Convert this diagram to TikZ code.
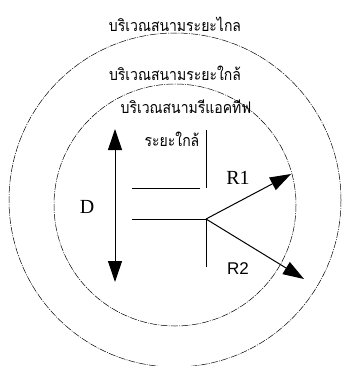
\documentclass[tikz,border=0pt]{standalone}
\usepackage{fontspec}
\newfontfamily\thaifont[Script=Thai]{Loma}
\newfontfamily\latinserif{Liberation Serif}
\newfontfamily\latinsans{Liberation Sans}
\usetikzlibrary{arrows.meta}

\begin{document}
\begin{tikzpicture}[x=1pt,y=-1pt,
  zone/.style={line width=0.5pt, dash pattern=on 7pt off 1.2pt on 1pt off 1.2pt},
  thailbl/.style={font=\thaifont\fontsize{14}{16}\selectfont, inner sep=0pt, yscale=1.15},
  latinlbl/.style={font=\latinserif\fontsize{20}{22}\selectfont, inner sep=0pt},
  tip/.style={Triangle[length=21pt,width=14pt]},
  bigtip/.style={-{Triangle[length=21pt,width=14pt]}, line width=1pt},
  guide/.style={line width=0.7pt}]
\useasboundingbox (0,0) rectangle (341,366);

% zones
\draw[zone] (175,200) ellipse [x radius=166, y radius=167];
\draw[zone] (175,205) circle [radius=121];

% zone labels
\node[thailbl] (far) at (175,24) {บริเวณสนามระยะไกล};
\node[thailbl] (near) at (175,73) {บริเวณสนามระยะใกล้};
\node[thailbl] (reactive) at (186,107) {บริเวณสนามรีแอคทีฟ};
\node[thailbl] (reactive2) at (172,139) {ระยะใกล้};

% guide lines
\coordinate (O) at (206,219);
\draw[guide] (206,130) -- (206,188);
\draw[guide] (132,188) -- (200,188);
\draw[guide] (132,219) -- (O);
\draw[guide] (O) -- (206,267);

% D
\coordinate (Dtop) at (115,129);
\coordinate (Dbot) at (115,282);
\draw[line width=1pt, {Triangle[length=21pt,width=14pt]}-{Triangle[length=21pt,width=14pt]}] (Dtop) -- (Dbot);
\node[latinlbl] (D) at (87,207) {D};

% R1, R2
\coordinate (R1tip) at (291,174);
\coordinate (R2tip) at (304,279);
\draw[bigtip] (O) -- (R1tip);
\draw[bigtip] (O) -- (R2tip);
\node[latinlbl] (R1) at (238,178) {R1};
\node[latinlbl, font=\latinsans\fontsize{17}{18}\selectfont] (R2) at (238,269) {R2};
\end{tikzpicture}
\end{document}
